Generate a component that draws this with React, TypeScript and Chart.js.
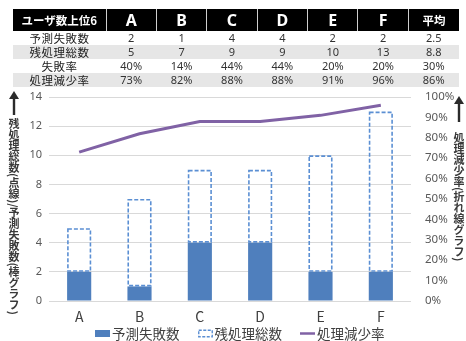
import React, { useEffect, useRef } from 'react';
import { Chart, registerables } from 'chart.js';

Chart.register(...registerables);

// Top-6 users
const categories = ['A', 'B', 'C', 'D', 'E', 'F'];
const predictionFailures = [2, 1, 4, 4, 2, 2];
const remainingTotals = [5, 7, 9, 9, 10, 13];
const failureRates = [40, 14, 44, 44, 20, 20];
const reductionRates = [73, 82, 88, 88, 91, 96];

const avgFailures = 2.5;
const avgRemaining = 8.8;
const avgFailureRate = 30;
const avgReduction = 86;

const countTicks = [0, 2, 4, 6, 8, 10, 12, 14];
const rateTicks = [0, 10, 20, 30, 40, 50, 60, 70, 80, 90, 100];

const seriesNames = ['予測失敗数', '残処理総数', '処理減少率'];

const BAR_BLUE = '#4F7FBD';
const DASH_BLUE = '#5B8FD3';
const LINE_PURPLE = '#8062A5';
const JP_FONT = "'Noto Sans CJK JP', 'Noto Sans', sans-serif";

// Outlines the floating "remaining" bars with a dashed stroke
const dashedOutline = {
  id: 'dashedOutline',
  afterDatasetDraw(chart: any, args: any) {
    if (args.index !== 1) return;
    const ctx = chart.ctx;
    const meta = chart.getDatasetMeta(1);
    ctx.save();
    ctx.setLineDash([4, 2]);
    ctx.lineWidth = 1.6;
    ctx.strokeStyle = DASH_BLUE;
    meta.data.forEach((bar: any) => {
      const { x, y, base, width } = bar.getProps(['x', 'y', 'base', 'width'], true);
      const top = Math.min(y, base);
      const h = Math.abs(base - y);
      ctx.strokeRect(x - width / 2 + 0.8, top + 0.8, width - 1.6, h - 1.6);
    });
    ctx.restore();
  },
};

const tableRows: { label: string; values: string[]; avg: string; shaded: boolean }[] = [
  { label: '予測失敗数', values: predictionFailures.map(String), avg: String(avgFailures), shaded: false },
  { label: '残処理総数', values: remainingTotals.map(String), avg: String(avgRemaining), shaded: true },
  { label: '失敗率', values: failureRates.map((v) => v + '%'), avg: avgFailureRate + '%', shaded: false },
  { label: '処理減少率', values: reductionRates.map((v) => v + '%'), avg: avgReduction + '%', shaded: true },
];

function Arrow({ left, top, height }: { left: number; top: number; height: number }) {
  return (
    <svg
      style={{ position: 'absolute', left, top }}
      width={12}
      height={height}
      viewBox={`0 0 12 ${height}`}
    >
      <polygon points={`6,0 11,8 1,8`} fill="#2b2b2b" />
      <rect x={4.8} y={6} width={2.4} height={height - 6} fill="#2b2b2b" />
    </svg>
  );
}

function LegendMarker({ kind }: { kind: number }) {
  return (
    <svg width={15} height={9} style={{ display: 'block', flex: 'none' }}>
      {kind === 0 && <rect x={0} y={1} width={15} height={7} fill={BAR_BLUE} />}
      {kind === 1 && (
        <rect
          x={0.75}
          y={1.25}
          width={13.5}
          height={6.5}
          fill="#fff"
          stroke={DASH_BLUE}
          strokeWidth={1.4}
          strokeDasharray="3 1.5"
        />
      )}
      {kind === 2 && <line x1={0} y1={4.5} x2={15} y2={4.5} stroke={LINE_PURPLE} strokeWidth={2.5} />}
    </svg>
  );
}

const verticalTitle: React.CSSProperties = {
  position: 'absolute',
  writingMode: 'vertical-rl',
  whiteSpace: 'nowrap',
  fontFamily: JP_FONT,
  fontWeight: 700,
  fontSize: 11,
  lineHeight: '14px',
  color: '#3a3a3a',
};

export default function App() {
  const canvasRef = useRef<HTMLCanvasElement | null>(null);

  useEffect(() => {
    if (!canvasRef.current) return;
    const chart = new Chart(canvasRef.current, {
      type: 'bar',
      data: {
        labels: categories,
        datasets: [
          {
            type: 'bar',
            label: seriesNames[0],
            data: predictionFailures,
            backgroundColor: BAR_BLUE,
            borderWidth: 0,
            grouped: false,
            barPercentage: 0.4,
            categoryPercentage: 1,
            yAxisID: 'y',
            order: 2,
          },
          {
            type: 'bar',
            label: seriesNames[1],
            data: remainingTotals.map((t, i) => [predictionFailures[i], t]) as any,
            backgroundColor: 'rgba(255,255,255,0)',
            borderWidth: 0,
            grouped: false,
            barPercentage: 0.4,
            categoryPercentage: 1,
            yAxisID: 'y',
            order: 1,
          },
          {
            type: 'line',
            label: seriesNames[2],
            data: reductionRates,
            borderColor: LINE_PURPLE,
            backgroundColor: LINE_PURPLE,
            borderWidth: 3,
            pointRadius: 0,
            tension: 0,
            yAxisID: 'y1',
            order: 0,
          } as any,
        ],
      },
      options: {
        animation: false,
        responsive: false,
        maintainAspectRatio: false,
        layout: { padding: { top: 97, left: 0, right: 0, bottom: 0 } },
        plugins: {
          tooltip: { enabled: false },
          legend: { display: false },
        },
        scales: {
          x: {
            grid: { display: false, drawTicks: false },
            border: { display: false },
            afterFit: (scale: any) => {
              scale.height = 24;
            },
            ticks: {
              color: '#404040',
              padding: 7,
              font: { family: JP_FONT, size: 14 },
            },
          },
          y: {
            position: 'left',
            min: 0,
            max: 14,
            afterBuildTicks: (scale: any) => {
              scale.ticks = countTicks.map((v) => ({ value: v }));
            },
            afterFit: (scale: any) => {
              scale.width = 49;
            },
            grid: { color: '#D9D9D9', drawTicks: false, lineWidth: 1 },
            border: { display: false },
            ticks: {
              color: '#595959',
              padding: 7,
              font: { family: "'Noto Sans', sans-serif", size: 11 },
            },
          },
          y1: {
            position: 'right',
            min: 0,
            max: 100,
            afterBuildTicks: (scale: any) => {
              scale.ticks = rateTicks.map((v) => ({ value: v }));
            },
            afterFit: (scale: any) => {
              scale.width = 55;
            },
            grid: { display: false, drawTicks: false },
            border: { display: false },
            ticks: {
              color: '#595959',
              padding: 14,
              font: { family: "'Noto Sans', sans-serif", size: 11.5 },
              callback: (v: any) => v + '%',
            },
          },
        },
      } as any,
      plugins: [dashedOutline],
    });
    return () => chart.destroy();
  }, []);

  const headCell: React.CSSProperties = {
    background: '#000',
    color: '#fff',
    fontWeight: 700,
    fontFamily: "'Noto Sans', 'Noto Sans CJK JP', sans-serif",
    fontSize: 16,
    textAlign: 'center',
    padding: 0,
    height: 20,
    borderLeft: '1px solid #cfcfcf',
  };
  const bodyCell: React.CSSProperties = {
    textAlign: 'center',
    padding: 0,
    height: 14,
    fontFamily: "'Noto Sans', sans-serif",
    fontSize: 11,
    color: '#333',
    lineHeight: '14px',
  };

  return (
    <div
      style={{
        position: 'fixed',
        left: 0,
        top: 0,
        width: 466,
        height: 341,
        background: '#fff',
        overflow: 'hidden',
      }}
    >
      <canvas
        ref={canvasRef}
        width={466}
        height={325}
        style={{ position: 'absolute', left: 0, top: 0, width: 466, height: 325 }}
      />
      <table
        style={{
          position: 'absolute',
          left: 13,
          top: 9,
          width: 446,
          borderCollapse: 'collapse',
          tableLayout: 'fixed',
        }}
      >
        <colgroup>
          <col style={{ width: 93 }} />
          {categories.map((c) => (
            <col key={c} style={{ width: 50.4 }} />
          ))}
          <col style={{ width: 50.6 }} />
        </colgroup>
        <thead>
          <tr>
            <th style={{ ...headCell, fontFamily: JP_FONT, fontSize: 11.5, borderLeft: 'none' }}>
              ユーザ数上位6
            </th>
            {categories.map((c) => (
              <th key={c} style={headCell}>
                {c}
              </th>
            ))}
            <th style={{ ...headCell, fontFamily: JP_FONT, fontSize: 11.5 }}>平均</th>
          </tr>
        </thead>
        <tbody>
          {tableRows.map((row) => (
            <tr key={row.label} style={{ background: row.shaded ? '#E6E6E6' : '#fff' }}>
              <td style={{ ...bodyCell, fontFamily: JP_FONT, fontSize: 11.5, color: '#222', letterSpacing: 0.5 }}>
                {row.label}
              </td>
              {row.values.map((v, i) => (
                <td key={i} style={bodyCell}>
                  {v}
                </td>
              ))}
              <td style={bodyCell}>{row.avg}</td>
            </tr>
          ))}
        </tbody>
      </table>

      {/* series legend under the plot */}
      <div
        style={{
          position: 'absolute',
          left: 95,
          top: 324,
          height: 18,
          display: 'flex',
          alignItems: 'center',
          gap: 18,
          fontFamily: JP_FONT,
          fontSize: 13.5,
          lineHeight: '18px',
          color: '#404040',
          whiteSpace: 'nowrap',
        }}
      >
        {seriesNames.map((name, i) => (
          <div key={name} style={{ display: 'flex', alignItems: 'center', gap: 2 }}>
            <LegendMarker kind={i} />
            <span>{name}</span>
          </div>
        ))}
      </div>

      <Arrow left={8} top={91} height={24} />
      <div style={{ ...verticalTitle, left: 7, top: 118 }}>
        残処理総数(点線)/予測失敗数(棒グラフ)
      </div>

      <Arrow left={453} top={96} height={26} />
      <div style={{ ...verticalTitle, left: 452, top: 132 }}>処理減少率(折れ線グラフ)</div>
    </div>
  );
}
